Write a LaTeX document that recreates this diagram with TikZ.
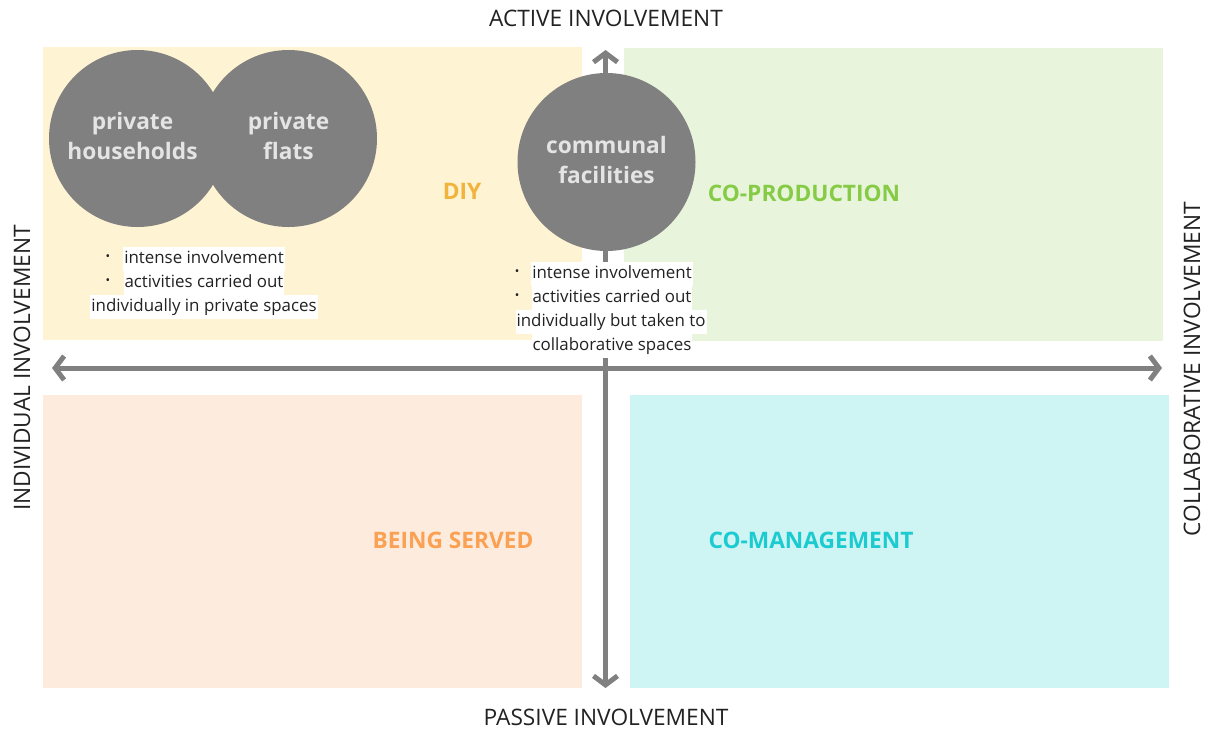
\documentclass[tikz,border=0pt]{standalone}
\usepackage{fontspec}
\setmainfont{Open Sans}
\usetikzlibrary{arrows.meta}
\definecolor{bgdiy}{HTML}{FEF3D3}
\definecolor{bgcop}{HTML}{E8F5DC}
\definecolor{bgser}{HTML}{FDECDD}
\definecolor{bgman}{HTML}{CFF4F4}
\definecolor{cdiy}{HTML}{F2B33D}
\definecolor{ccop}{HTML}{86CB45}
\definecolor{cser}{HTML}{FAA154}
\definecolor{cman}{HTML}{1CCBD0}
\definecolor{axisgray}{HTML}{808080}
\definecolor{circtext}{HTML}{E4E4E4}
\definecolor{txtblack}{HTML}{222222}
\tikzset{
  axisline/.style={draw=axisgray, line width=5pt, {Straight Barb[length=9pt,width=24pt]}-{Straight Barb[length=9pt,width=24pt]}},
  axislabel/.style={font=\fontsize{22.7}{26}\selectfont, text=txtblack, inner sep=0},
  quadlabel/.style={font=\fontsize{22.7}{26}\selectfont\bfseries, inner sep=0},
  bubble/.style={circle, fill=axisgray, inner sep=0, text=circtext, align=center, text depth=5pt, font=\fontsize{22.7}{30}\selectfont\bfseries},
  note/.style={fill=white, inner xsep=1pt, inner ysep=3pt, text height=13.5pt, text depth=4.5pt, text=txtblack, font=\fontsize{16.9}{20}\selectfont, anchor=base},
  bul/.style={inner sep=0, text=txtblack, font=\fontsize{12}{12}\selectfont}
}
\begin{document}
\begin{tikzpicture}[x=1pt,y=-1pt]
\useasboundingbox (0,0) rectangle (1205,729);
% quadrants
\fill[bgdiy] (43,47) rectangle (582,340);
\fill[bgcop] (624,48) rectangle (1163,341);
\fill[bgser] (43,395) rectangle (582,688);
\fill[bgman] (630,395) rectangle (1169,688);
% axes
\coordinate (vtop) at (605.5,50);
\coordinate (vbot) at (605.5,688);
\coordinate (hleft) at (52,368);
\coordinate (hright) at (1162,368);
\draw[axisline] (vbot) -- (vtop);
\draw[axisline] (hleft) -- (hright);
% axis labels
\node[axislabel] (active) at (606,18) {ACTIVE INVOLVEMENT};
\node[axislabel] (passive) at (606,717) {PASSIVE INVOLVEMENT};
\node[axislabel, rotate=90] (indiv) at (22,368) {INDIVIDUAL INVOLVEMENT};
\node[axislabel, rotate=90] (collab) at (1192,369) {COLLABORATIVE INVOLVEMENT};
% quadrant labels
\node[quadlabel, text=cdiy] (diy) at (462,191) {DIY};
\node[quadlabel, text=ccop] (coprod) at (804,193) {CO-PRODUCTION};
\node[quadlabel, text=cser] (served) at (453,540) {BEING SERVED};
\node[quadlabel, text=cman] (coman) at (811,540) {CO-MANAGEMENT};
% bubbles
\node[bubble, minimum size=177pt] (households) at (137.5,138.5) {\hspace*{-10pt}private\\\hspace*{-10pt}households};
\node[bubble, minimum size=177pt] (flats) at (288.5,138.5) {private\\flats};
\node[bubble, minimum size=178pt] (communal) at (606.5,162) {communal\\facilities};
% left notes
\node[note] (l1) at (204,263) {intense involvement};
\node[note] (l2) at (204,287) {activities carried out};
\node[note] (l3) at (204,311) {individually in private spaces};
\node[bul] (lb1) at (108,258) {•};
\node[bul] (lb2) at (108,282) {•};
% right notes
\node[note] (r1) at (612,278) {intense involvement};
\node[note] (r2) at (612,302) {activities carried out};
\node[note] (r3) at (611,326) {individually but taken to};
\node[note] (r4) at (612,350) {collaborative spaces};
\node[bul] (rb1) at (517,273) {•};
\node[bul] (rb2) at (517,297) {•};
\end{tikzpicture}
\end{document}
